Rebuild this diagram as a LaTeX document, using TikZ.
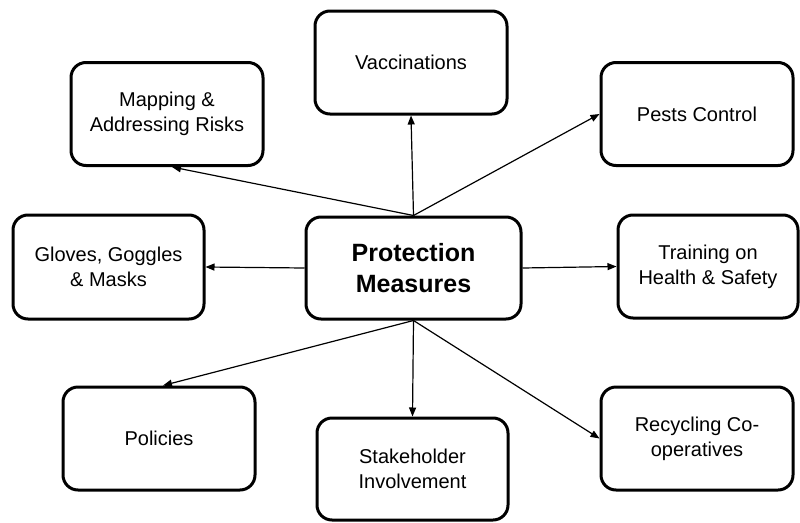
\documentclass[tikz,border=0pt]{standalone}
\usepackage{fontspec}
\setmainfont{Liberation Sans}
\usetikzlibrary{arrows.meta}

\begin{document}
\begin{tikzpicture}[x=1pt, y=-1pt,
        measure/.style={draw, line width=3pt, rounded corners=15pt, align=center,
            minimum width=192pt, minimum height=103pt, inner sep=0pt,
            font=\fontsize{20}{25}\selectfont},
        hub/.style={measure, minimum width=215pt, minimum height=102pt,
            font=\fontsize{25}{31}\selectfont\bfseries},
        link/.style={-{Triangle[length=9pt, width=7pt]}, line width=1.2pt}]
        \useasboundingbox (0, 0) rectangle (800, 522);

        % Define node for the centre
        \node at (413.5, 268) (main) [hub] {Protection\\Measures};

        % Define nodes for the measures
        \node at (411, 62.5) (vacc) [measure] {Vaccinations};
        \node at (167, 114) (mapping) [measure] {Mapping \&\\Addressing Risks};
        \node at (697, 114) (pests) [measure] {Pests Control};
        \node at (108.5, 267) (gloves) [measure, minimum width=191pt, minimum height=104pt] {Gloves, Goggles\\\& Masks};
        \node at (708, 266.5) (training) [measure, minimum width=180pt] {Training on\\Health \& Safety};
        \node at (159, 438.5) (policies) [measure] {Policies};
        \node at (412.5, 469) (stake) [measure, minimum width=191pt, minimum height=102pt] {Stakeholder\\Involvement};
        \node at (697, 438.5) (recycle) [measure] {Recycling Co-\\operatives};

        % Draw edges
        \draw[link] (main.north) -- (vacc.south);
        \draw[link] (main.north) -- ([xshift=5pt]mapping.south);
        \draw[link] (main.north) -- (pests.west);
        \draw[link] (main.west) -- (gloves.east);
        \draw[link] (main.east) -- (training.west);
        \draw[link] (main.south) -- ([xshift=4pt]policies.north);
        \draw[link] (main.south) -- (stake.north);
        \draw[link] (main.south) -- (recycle.west);
    \end{tikzpicture}
\end{document}
